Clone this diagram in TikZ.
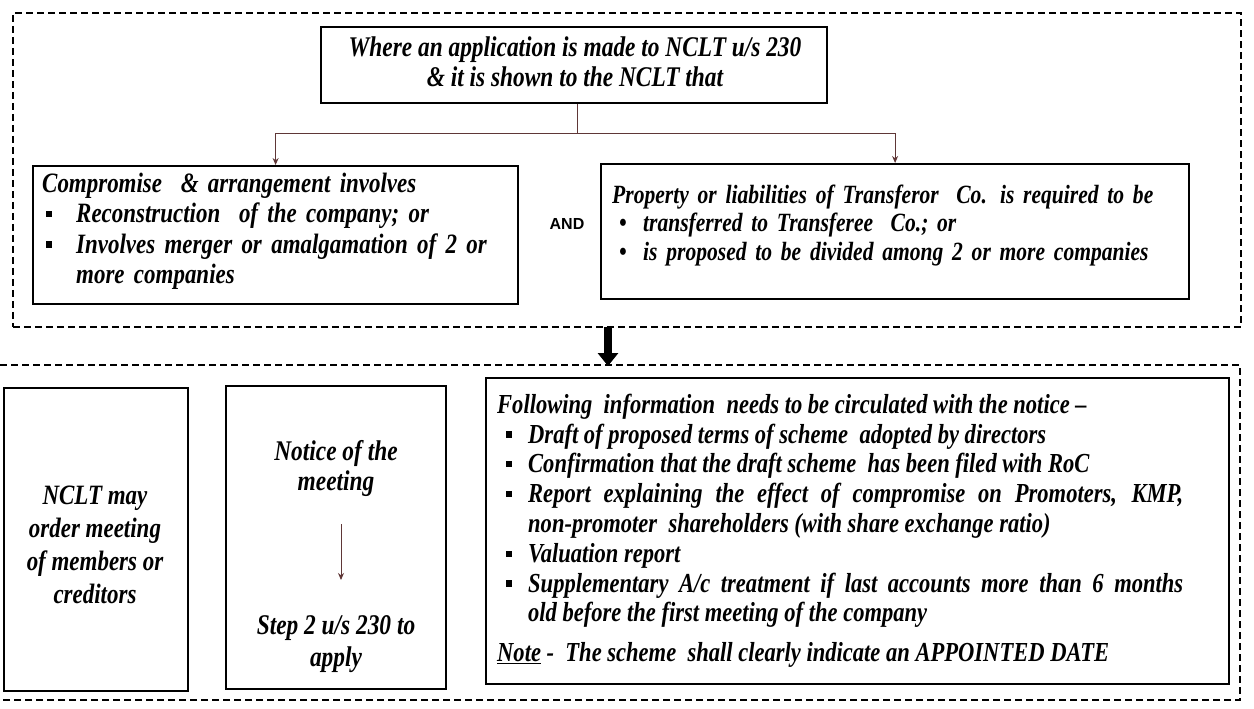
\documentclass[tikz,border=0pt]{standalone}
\usepackage{fontspec}
\setmainfont{Liberation Serif}
\setsansfont{Liberation Sans}
\newfontfamily\dfont{Liberation Serif Bold Italic}[FakeStretch=0.82,Ligatures=TeX]
\usetikzlibrary{arrows.meta}

\definecolor{lnk}{RGB}{95,55,55}

% square and round bullets
\newcommand\sqbul{\rule[0.2em]{0.22em}{0.22em}}
\newcommand\rdbul{\textbullet}
% hanging bullet line: #1 indent, #2 bullet offset, #3 bullet, #4 text
\newcommand\bitem[4]{\par\hangindent=#1\hangafter=1\noindent\makebox[#1][l]{\hspace{#2}#3}#4\par}
% first-line strut, so that a node's top sits 22pt above its first baseline
\newcommand\fstrut{\rule{0pt}{22pt}}
\newcommand\dsize[2]{\dfont\fontsize{#1}{#2}\selectfont}

\tikzset{
  box/.style={draw=black, line width=2.2pt, inner sep=0pt},
  frame/.style={draw=black, line width=1.7pt, dash pattern=on 7pt off 4pt},
  txt/.style={inner sep=0pt},
  link/.style={draw=lnk, line width=1pt, -{Stealth[length=7pt,width=6pt]}},
}

\begin{document}
\begin{tikzpicture}[x=1pt,y=-1pt]
\useasboundingbox (0,0) rectangle (1254,709);

% ---- upper group ----
\node[frame, minimum width=1228pt, minimum height=314pt, anchor=north west] (f1) at (12,12) {};

\node[box, minimum width=506pt, minimum height=76pt, anchor=north west] (q) at (320,26) {};
\node[txt, align=center, anchor=north, font=\dsize{28.5}{30}] (qt) at (575,34)
  {\fstrut Where an application is made to NCLT u/s 230\\ \& it is shown to the NCLT that};

\node[box, minimum width=485pt, minimum height=138pt, anchor=north west] (lb) at (32,165) {};
\node[txt, text width=470pt, align=left, anchor=north west, font=\dsize{28}{30.5}] (lt) at (42,170) {%
  \noindent\fstrut Compromise \ \& arrangement involves\par
  \bitem{34pt}{4pt}{\sqbul}{Reconstruction \ of the company; or}
  \bitem{34pt}{4pt}{\sqbul}{Involves merger or amalgamation of 2 or\hfil\break more companies}};

\node[font=\sffamily\bfseries\fontsize{16}{16}\selectfont, inner sep=0pt] (and) at (567,224) {AND};

\node[box, minimum width=588pt, minimum height=135pt, anchor=north west] (rb) at (600,163) {};
\node[txt, text width=575pt, align=left, anchor=north west, font=\dsize{26.3}{28.5}] (rt) at (612,181) {%
  \noindent\fstrut Property or liabilities of Transferor \ Co. is required to be\par
  \bitem{31pt}{7pt}{\rdbul}{transferred to Transferee \ Co.; or}
  \bitem{31pt}{7pt}{\rdbul}{is proposed to be divided among 2 or more companies}};

\coordinate (split) at (577,133);
\draw[draw=lnk, line width=1pt] (q.south -| split) -- (split);
\draw[link] (split) -| (lb.north);
\draw[link] (split) -| (rb.north);

% ---- link between the groups ----
\coordinate (a1) at (608,327);
\coordinate (a2) at (608,366);
\draw[line width=8pt, -{Triangle[width=20pt,length=13pt]}] (a1) -- (a2);

% ---- lower group ----
\coordinate (g1) at (0,365);
\coordinate (g2) at (1240,365);
\coordinate (g3) at (1240,700);
\coordinate (g4) at (0,700);
\draw[frame] (g1) -- (g2) -- (g3) -- (g4);

\node[box, minimum width=184pt, minimum height=303pt, anchor=north west] (na) at (3,387) {};
\node[txt, align=center, anchor=north, font=\dsize{28}{33}] (nat) at (95,482)
  {\fstrut NCLT may\\ order meeting\\ of members or\\ creditors};

\node[box, minimum width=220pt, minimum height=303pt, anchor=north west] (nb) at (225,385) {};
\node[txt, align=center, anchor=north, font=\dsize{28.5}{30}] (nb1) at (336,438)
  {\fstrut Notice of the\\ meeting};
\node[txt, align=center, anchor=north, font=\dsize{28.5}{32}] (nb2) at (336,612)
  {\fstrut Step 2 u/s 230 to\\ apply};
\coordinate (nbs) at (341,524);
\coordinate (nbe) at (341,580);
\draw[link] (nbs) -- (nbe);

\node[box, minimum width=743pt, minimum height=306pt, anchor=north west] (nc) at (485,377) {};
\node[txt, text width=686pt, align=justify, anchor=north west, font=\dsize{27.5}{29.8}] (nct) at (497,391) {%
  \noindent\fstrut Following \ information \ needs to be circulated with the notice –\par
  \bitem{31pt}{9pt}{\sqbul}{Draft of proposed terms of scheme \ adopted by directors}
  \bitem{31pt}{9pt}{\sqbul}{Confirmation that the draft scheme \ has been filed with RoC}
  \bitem{31pt}{9pt}{\sqbul}{Report explaining the effect of compromise on Promoters, KMP,\linebreak non-promoter \ shareholders (with share exchange ratio)}
  \bitem{31pt}{9pt}{\sqbul}{Valuation report}
  \bitem{31pt}{9pt}{\sqbul}{Supplementary A/c treatment if last accounts more than 6 months\linebreak old before the first meeting of the company}
  \vspace{10pt}
  \noindent\underline{Note} - \ The scheme \ shall clearly indicate an APPOINTED DATE\par};
\end{tikzpicture}
\end{document}
